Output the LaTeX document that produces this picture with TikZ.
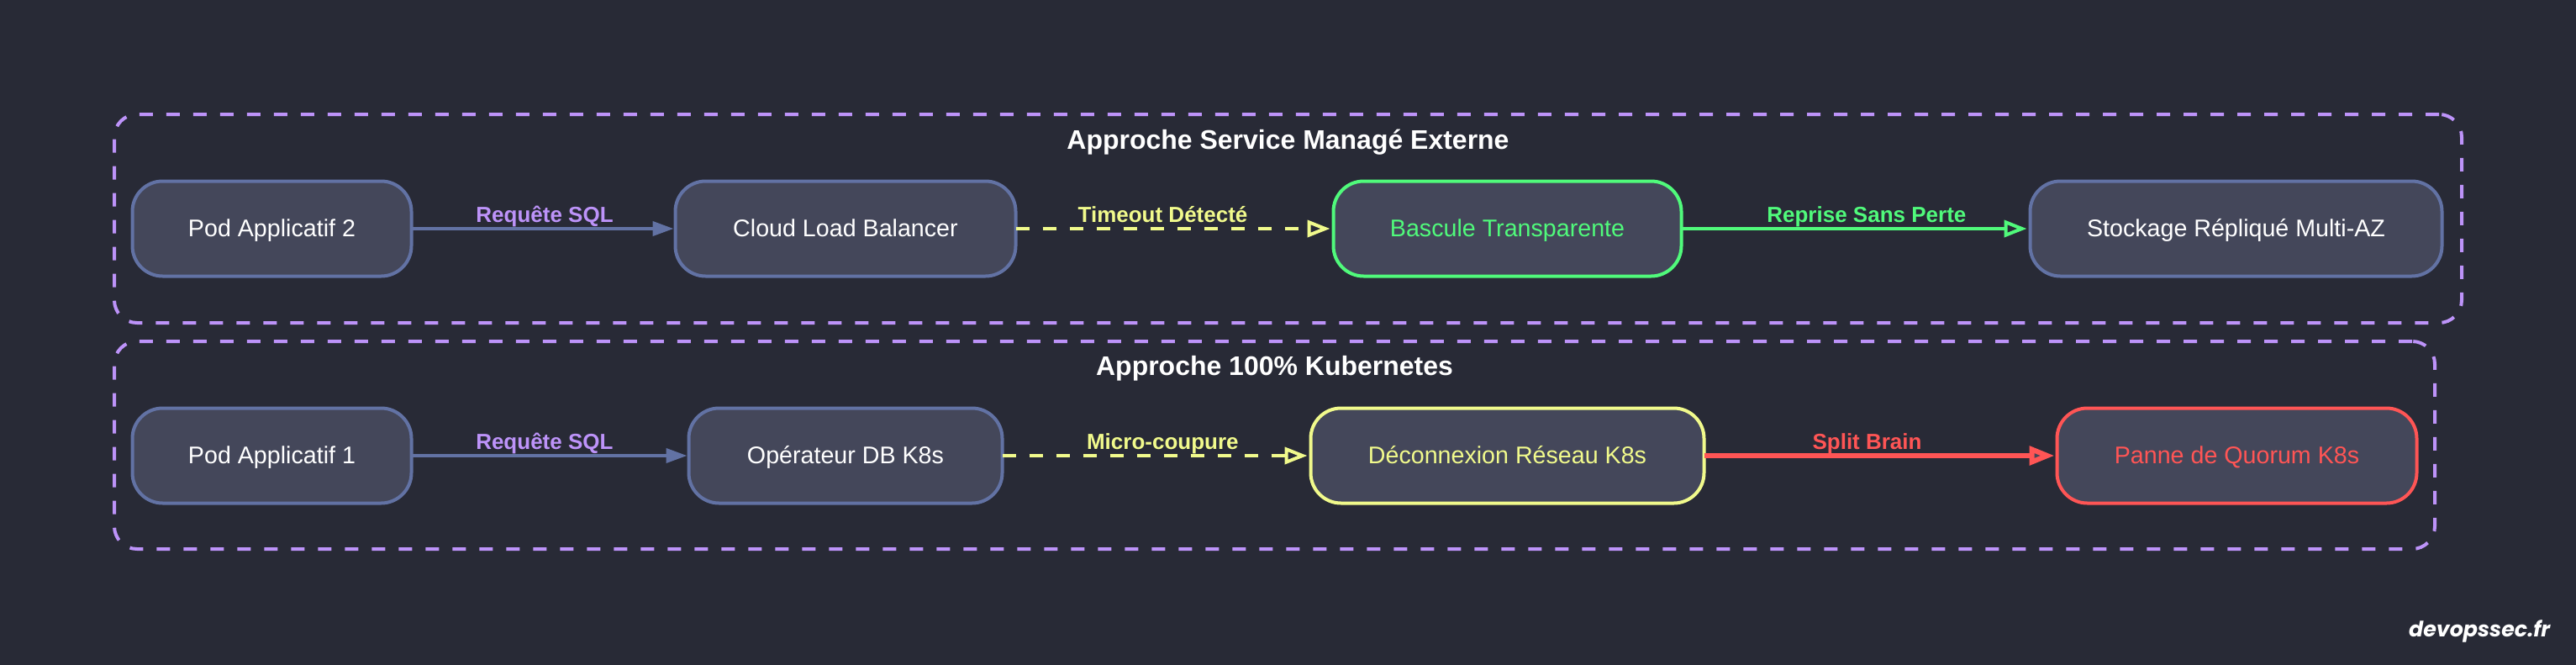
\documentclass[tikz,border=0pt]{standalone}
\usepackage{fontspec}
\usepackage{xcolor}
\setmainfont{Liberation Sans}
\newfontfamily\brandfont{Poppins}
\usetikzlibrary{arrows.meta, positioning, calc, fit, backgrounds}

\definecolor{bgdark}{HTML}{282A36}
\definecolor{boxfill}{HTML}{44475A}
\definecolor{boxline}{HTML}{6272A4}
\definecolor{lilac}{HTML}{BD93F9}
\definecolor{okgreen}{HTML}{50FA7B}
\definecolor{warnyellow}{HTML}{F1FA8C}
\definecolor{badred}{HTML}{FF5555}

\begin{document}
\begin{tikzpicture}[
    node distance=1.57cm and 3cm,
    box/.style={rectangle, draw=boxline, line width=0.04cm, fill=boxfill, rounded corners=0.36cm, minimum height=1.13cm, outer sep=0pt, inner sep=0pt, text=white, text height=0.18cm, text depth=0pt, font=\fontsize{8.15}{10}\selectfont},
    okbox/.style={box, draw=okgreen, text=okgreen},
    warnbox/.style={box, draw=warnyellow, text=warnyellow},
    badbox/.style={box, draw=badred, text=badred},
    cluster/.style={rectangle, draw=lilac, line width=0.04cm, dash pattern=on 0.16cm off 0.16cm, rounded corners=0.27cm, inner sep=0pt, outer sep=0pt},
    clustertitle/.style={inner sep=0pt, text=white, text height=0.23cm, text depth=0pt, font=\fontsize{9.1}{11}\selectfont\bfseries},
    edgelabel/.style={anchor=base, inner sep=0pt, yshift=0.08cm, font=\fontsize{7.4}{9}\selectfont\bfseries},
    arrow/.style={line width=0.04cm, draw=boxline, shorten >=0.02cm, -{Triangle[length=0.25cm, width=0.17cm]}},
    okarrow/.style={line width=0.04cm, draw=okgreen, shorten >=0.04cm, -{Triangle[open, length=0.27cm, width=0.2cm, fill=bgdark]}},
    warnarrow/.style={line width=0.04cm, draw=warnyellow, shorten >=0.04cm, dash pattern=on 0.16cm off 0.16cm, -{Triangle[open, length=0.27cm, width=0.2cm, fill=bgdark]}},
    badarrow/.style={line width=0.06cm, draw=badred, shorten >=0.03cm, -{Triangle[open, length=0.3cm, width=0.22cm, fill=boxfill]}}
]

    \useasboundingbox (0,0) rectangle (30.65,7.9);

    % --- Top Row ---
    \node[box, minimum width=3.32cm] (pod2) at (3.235,5.18) {Pod Applicatif 2};
    \node[box, minimum width=4.05cm, right=3.14cm of pod2] (loadbalancer) {Cloud Load Balancer};
    \node[okbox, minimum width=4.14cm, right=3.78cm of loadbalancer] (failover) {Bascule Transparente};
    \node[box, minimum width=4.90cm, right=4.15cm of failover] (storage) {Stockage Répliqué Multi-AZ};

    % --- Bottom Row ---
    \node[box, minimum width=3.32cm, below=of pod2] (pod1) {Pod Applicatif 1};
    \node[box, minimum width=3.73cm, right=3.30cm of pod1] (operator) {Opérateur DB K8s};
    \node[warnbox, minimum width=4.68cm, right=3.67cm of operator] (netloss) {Déconnexion Réseau K8s};
    \node[badbox, minimum width=4.28cm, right=4.20cm of netloss] (quorum) {Panne de Quorum K8s};

    % --- Connections ---
    \draw[arrow] (pod2) -- node[edgelabel, text=lilac, pos=0.505] {Requête SQL} (loadbalancer);
    \draw[warnarrow] (loadbalancer) -- node[edgelabel, text=warnyellow, pos=0.463] {Timeout Détecté} (failover);
    \draw[okarrow] (failover) -- node[edgelabel, text=okgreen, pos=0.531] {Reprise Sans Perte} (storage);

    \draw[arrow] (pod1) -- node[edgelabel, text=lilac, pos=0.48] {Requête SQL} (operator);
    \draw[warnarrow] (operator) -- node[edgelabel, text=warnyellow, pos=0.52] {Micro-coupure} (netloss);
    \draw[badarrow] (netloss) -- node[edgelabel, text=badred, pos=0.462] {Split Brain} (quorum);

    % --- Background Grouping ---
    \begin{scope}[on background layer]
        \fill[bgdark] (-0.1,-0.1) rectangle (30.75,8);
        \node[cluster, fit={($(pod2.north west)+(-0.215,0.795)$) ($(storage.south east)+(0.235,-0.555)$)}] (external) {};
        \node[cluster, fit={($(pod1.north west)+(-0.215,0.795)$) ($(quorum.south east)+(0.215,-0.545)$)}] (kubernetes) {};
    \end{scope}

    \node[clustertitle, below=0.18cm of external.north] (external-title) {Approche Service Managé Externe};
    \node[clustertitle, below=0.17cm of kubernetes.north] (kubernetes-title) {Approche 100\% Kubernetes};

    % Watermark
    \node[inner sep=0pt, text=white, anchor=base east, font=\fontsize{7.2}{8}\brandfont\bfseries\itshape] (brand) at (30.35,0.33) {devopssec.fr};

\end{tikzpicture}
\end{document}
